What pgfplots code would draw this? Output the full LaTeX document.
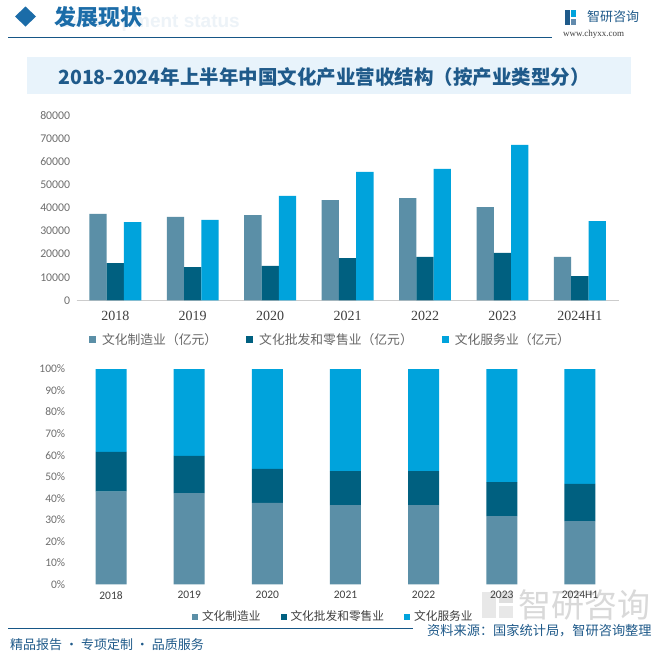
\documentclass[border=0pt]{standalone}
\usepackage{pgfplots}
\pgfplotsset{compat=1.18}
\usepackage{fontspec}
\setmainfont{Carlito}
\newfontfamily\cjk{Noto Sans CJK SC}
\newfontfamily\serifd{Liberation Serif}
\newfontfamily\wsans{Liberation Sans}
\definecolor{cman}{RGB}{91,143,167}
\definecolor{cws}{RGB}{0,96,128}
\definecolor{csv}{RGB}{0,163,220}
\definecolor{hblue}{RGB}{27,108,168}
\definecolor{tblue}{RGB}{31,90,138}
\definecolor{boxbg}{RGB}{232,243,251}
\definecolor{tickg}{RGB}{110,110,110}
\definecolor{labg}{RGB}{64,64,64}
\begin{document}
\begin{tikzpicture}
\path[use as bounding box, fill=white] (0pt,0pt) rectangle (667pt,-656pt);
% header
\node[anchor=east, font=\wsans\bfseries\fontsize{19}{22}\selectfont, text=hblue!8, inner sep=0pt] at (240pt,-23pt) {Development status};
\fill[hblue] (25.5pt,-6.5pt) -- (36pt,-16.5pt) -- (25.5pt,-26.5pt) -- (15pt,-16.5pt) -- cycle;
\node[anchor=west, font=\cjk\bfseries\fontsize{22}{24}\selectfont, text=hblue, inner sep=0pt] at (54pt,-17pt) {发展现状};
\draw[hblue!80!black, line width=1pt] (8pt,-37pt) -- (552pt,-37pt);
\fill[tblue] (565pt,-10pt) rectangle (570pt,-25pt);
\fill[csv] (571pt,-10pt) rectangle (576pt,-17pt);
\fill[tblue!70] (571pt,-19pt) rectangle (576pt,-25pt);
\node[anchor=west, font=\cjk\fontsize{13}{14}\selectfont, text=tblue, inner sep=0pt] at (587pt,-17pt) {智研咨询};
\node[anchor=west, font=\serifd\fontsize{9}{10}\selectfont, text=labg, inner sep=0pt] at (563pt,-34pt) {www.chyxx.com};
% title box
\fill[boxbg] (27pt,-57pt) rectangle (631pt,-94pt);
\node[font=\cjk\bfseries\fontsize{19.5}{22}\selectfont, text=tblue, inner sep=0pt] at (324pt,-77pt) {2018-2024年上半年中国文化产业营收结构（按产业类型分）};
% big watermark
\fill[gray!18] (482pt,-592pt) rectangle (496pt,-618pt);
\fill[gray!25] (499pt,-592pt) rectangle (513pt,-603pt);
\fill[gray!18] (499pt,-606pt) rectangle (513pt,-618pt);
\node[anchor=west, font=\cjk\fontsize{33}{34}\selectfont, text=gray!30, inner sep=0pt] at (518pt,-605pt) {智研咨询};
% top chart
\begin{axis}[
  at={(76.6pt,-300.3pt)}, anchor=south west, scale only axis,
  width=542pt, height=184.7pt,
  ybar=0pt, bar width=17.3pt,
  xmin=-0.5, xmax=6.5, ymin=0, ymax=80000,
  xtick={0,1,2,3,4,5,6},
  xticklabels={2018,2019,2020,2021,2022,2023,2024H1},
  ytick={0,10000,20000,30000,40000,50000,60000,70000,80000},
  scaled y ticks=false,
  /pgf/number format/1000 sep={},
  /pgf/number format/assume math mode=true,
  axis x line*=bottom, axis y line*=left,
  x axis line style={draw=gray!40, -},
  y axis line style={draw=none},
  major tick length=0pt,
  yticklabel style={font=\fontsize{11.8}{13}\selectfont, text=tickg, xshift=-2.9pt},
  xticklabel style={font=\serifd\fontsize{14}{15}\selectfont, text=labg, yshift=-7.3pt},
  legend columns=3,
  legend style={at={(axis description cs:0.0229,-0.2112)}, anchor=west, draw=none, fill=none,
    inner sep=0pt, outer sep=0pt,
    font=\cjk\fontsize{12.8}{14}\selectfont, text=labg!80,
    nodes={inner sep=0pt},
    /tikz/every odd column/.append style={column sep=6pt},
    /tikz/every even column/.append style={column sep=29pt}},
]
\addplot[fill=cman, draw=none, legend image code/.code={\fill[cman] (0pt,-3.5pt) rectangle (7pt,3.5pt);}] coordinates {(0,37400) (1,36100) (2,36900) (3,43400) (4,44300) (5,40400) (6,18800)};
\addplot[fill=cws, draw=none, legend image code/.code={\fill[cws] (0pt,-3.5pt) rectangle (7pt,3.5pt);}] coordinates {(0,16150) (1,14400) (2,14900) (3,18300) (4,18800) (5,20500) (6,10500)};
\addplot[fill=csv, draw=none, legend image code/.code={\fill[csv] (0pt,-3.5pt) rectangle (7pt,3.5pt);}] coordinates {(0,33900) (1,34800) (2,45200) (3,55600) (4,56900) (5,67300) (6,34300)};
\legend{文化制造业（亿元）,文化批发和零售业（亿元）,文化服务业（亿元）}
\end{axis}
% bottom chart
\begin{axis}[
  at={(72pt,-584.3pt)}, anchor=south west, scale only axis,
  width=547pt, height=215.3pt,
  ybar stacked, bar width=31pt,
  xmin=-0.5, xmax=6.5, ymin=0, ymax=100,
  xtick={0,1,2,3,4,5,6},
  xticklabels={2018,2019,2020,2021,2022,2023,2024H1},
  ytick={0,10,20,30,40,50,60,70,80,90,100},
  yticklabel={\pgfmathprintnumber{\tick}\%},
  /pgf/number format/assume math mode=true,
  axis x line*=bottom, axis y line*=left,
  x axis line style={draw=none},
  y axis line style={draw=none},
  major tick length=0pt,
  yticklabel style={font=\fontsize{11.5}{13}\selectfont, text=tickg, xshift=-3.3pt},
  xticklabel style={font=\fontsize{11.5}{13}\selectfont, text=labg, yshift=-3.4pt},
  legend columns=3,
  legend style={at={(axis description cs:0.2194,-0.1505)}, anchor=west, draw=none, fill=none,
    inner sep=0pt, outer sep=0pt,
    font=\cjk\fontsize{11.7}{13}\selectfont, text=labg,
    nodes={inner sep=0pt},
    /tikz/every odd column/.append style={column sep=4pt},
    /tikz/every even column/.append style={column sep=20pt}},
]
\addplot[fill=cman, draw=none, legend image code/.code={\fill[cman] (0pt,-3pt) rectangle (6pt,3pt);}] coordinates {(0,43.0) (1,42.4) (2,37.8) (3,36.8) (4,36.8) (5,31.7) (6,29.4)};
\addplot[fill=cws, draw=none, legend image code/.code={\fill[cws] (0pt,-3pt) rectangle (6pt,3pt);}] coordinates {(0,18.5) (1,17.2) (2,15.8) (3,15.8) (4,15.8) (5,15.8) (6,17.2)};
\addplot[fill=csv, draw=none, legend image code/.code={\fill[csv] (0pt,-3pt) rectangle (6pt,3pt);}] coordinates {(0,38.5) (1,40.4) (2,46.4) (3,47.4) (4,47.4) (5,52.5) (6,53.4)};
\legend{文化制造业,文化批发和零售业,文化服务业}
\end{axis}
% footer
\draw[hblue!80!black, line width=1pt] (8pt,-628pt) -- (413pt,-628pt);
\node[anchor=west, font=\cjk\fontsize{13.2}{14}\selectfont, text=tblue, inner sep=0pt] at (427pt,-631pt) {资料来源：国家统计局，智研咨询整理};
\node[anchor=west, font=\cjk\fontsize{13}{14}\selectfont, text=tblue, inner sep=0pt] at (10pt,-645pt) {精品报告 · 专项定制 · 品质服务};
\end{tikzpicture}
\end{document}
